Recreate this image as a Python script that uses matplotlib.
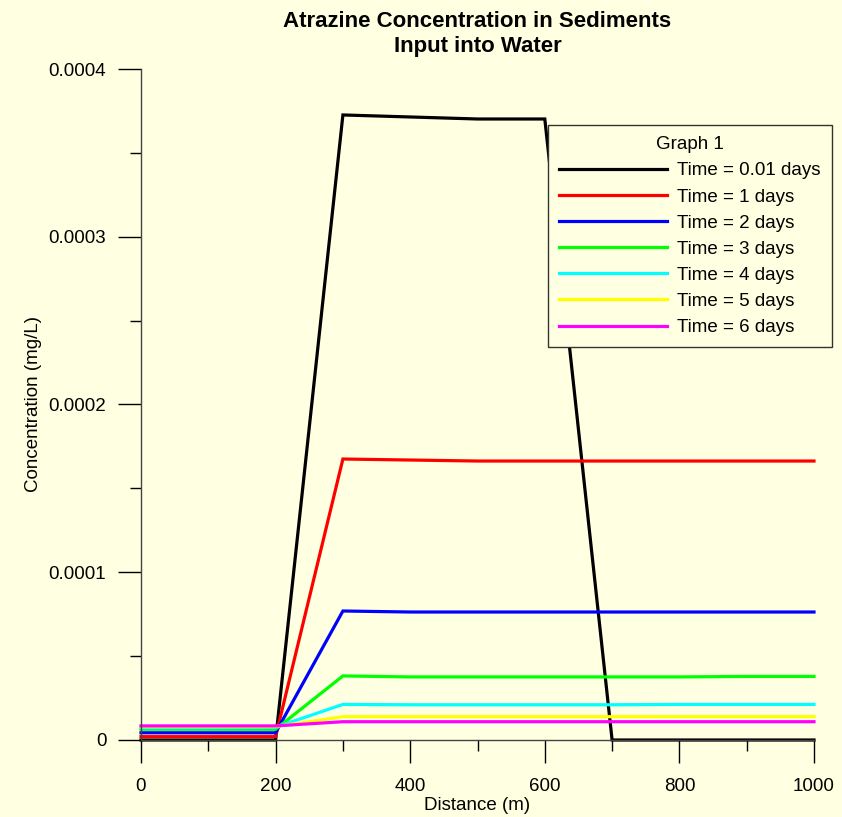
import matplotlib
matplotlib.use("Agg")
import matplotlib.pyplot as plt
from matplotlib.ticker import MultipleLocator, FuncFormatter

plt.rcParams['font.family'] = ['Liberation Sans', 'DejaVu Sans']

distance = [0, 100, 200, 300, 400, 500, 600, 700, 800, 900, 1000]
labels = ["Time = 0.01 days", "Time = 1 days", "Time = 2 days", "Time = 3 days",
          "Time = 4 days", "Time = 5 days", "Time = 6 days"]
colors = ["#000000", "#FF0000", "#0000FF", "#00FF00", "#00FFFF", "#FFFF00", "#FF00FF"]

t001 = [0, 0, 0, 3.726e-4, 3.714e-4, 3.702e-4, 3.702e-4, 0, 0, 0, 0]
t1 = [2.0e-6, 2.0e-6, 2.0e-6, 1.675e-4, 1.669e-4, 1.663e-4, 1.663e-4, 1.663e-4, 1.663e-4, 1.663e-4, 1.663e-4]
t2 = [4.3e-6, 4.3e-6, 4.3e-6, 7.69e-5, 7.63e-5, 7.63e-5, 7.63e-5, 7.63e-5, 7.63e-5, 7.63e-5, 7.63e-5]
t3 = [6.4e-6, 6.4e-6, 6.4e-6, 3.82e-5, 3.76e-5, 3.76e-5, 3.76e-5, 3.76e-5, 3.76e-5, 3.79e-5, 3.79e-5]
t4 = [7.3e-6, 7.3e-6, 7.6e-6, 2.12e-5, 2.10e-5, 2.10e-5, 2.10e-5, 2.10e-5, 2.12e-5, 2.12e-5, 2.12e-5]
t5 = [7.9e-6, 7.9e-6, 8.0e-6, 1.39e-5, 1.39e-5, 1.39e-5, 1.39e-5, 1.39e-5, 1.39e-5, 1.39e-5, 1.39e-5]
t6 = [8.4e-6, 8.4e-6, 8.4e-6, 1.09e-5, 1.09e-5, 1.09e-5, 1.09e-5, 1.09e-5, 1.09e-5, 1.09e-5, 1.09e-5]
series = [t001, t1, t2, t3, t4, t5, t6]

bg = "#FFFFE1"
fig = plt.figure(figsize=(8.42, 8.17), dpi=100, facecolor=bg)
ax = fig.add_axes([141/842, 77/817, 673/842, 671/817])
ax.set_facecolor(bg)

for ys, c, lab in zip(series, colors, labels):
    ax.plot(distance, ys, color=c, lw=2.3, label=lab, clip_on=False, solid_joinstyle='miter')

ax.set_xlim(0, 1000)
ax.set_ylim(0, 0.0004)
for s in ['top', 'right']:
    ax.spines[s].set_visible(False)
for s in ['left', 'bottom']:
    ax.spines[s].set_color('#444444')
    ax.spines[s].set_linewidth(1.0)

ax.xaxis.set_major_locator(MultipleLocator(200))
ax.xaxis.set_minor_locator(MultipleLocator(100))
ax.yaxis.set_major_locator(MultipleLocator(0.0001))
ax.yaxis.set_minor_locator(MultipleLocator(0.00005))
ax.yaxis.set_major_formatter(FuncFormatter(lambda v, p: "0" if v == 0 else f"{v:.4f}"))
ax.tick_params(which='major', direction='out', length=16.5, width=1, labelsize=13.5, colors='black')
ax.tick_params(which='minor', direction='out', length=8, width=1)
ax.tick_params(axis='x', which='major', pad=11)
ax.tick_params(axis='y', which='major', pad=8.5)

ax.set_xlabel("Distance (m)", fontsize=13.5)
ax.set_ylabel("Concentration (mg/L)", fontsize=13.5)
ax.xaxis.set_label_coords(0.5, -0.085)
ax.yaxis.set_label_coords(-0.147, 0.5)
ax.set_title("Atrazine Concentration in Sediments\nInput into Water", fontsize=16,
             fontweight='bold', pad=12.5, linespacing=1.2)

leg = ax.legend(title="Graph 1", loc='upper left', bbox_to_anchor=(0.6048, 0.9165),
                fontsize=13.5, title_fontsize=13.5, frameon=True, fancybox=False,
                handlelength=5.76, handletextpad=0.53, labelspacing=0.48,
                borderpad=0.6, borderaxespad=0)
leg.get_frame().set_facecolor(bg)
leg.get_frame().set_edgecolor('#333333')
leg.get_frame().set_linewidth(1.0)
leg.get_frame().set_alpha(1)

fig.savefig("out.png", dpi=100, facecolor=bg)
